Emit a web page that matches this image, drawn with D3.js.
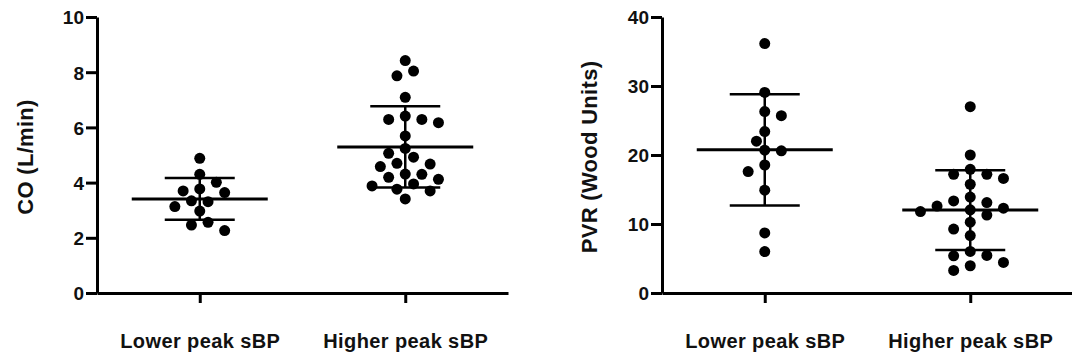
<!DOCTYPE html>
<html>
<head>
<meta charset="utf-8">
<script src="https://cdn.jsdelivr.net/npm/d3@7"></script>
<style>
  body { margin: 0; background: #fff; }
  svg text { font-family: 'Liberation Sans', Arial, Helvetica, sans-serif; font-weight: bold; fill: #111; }
</style>
</head>
<body>
<svg id="chart" width="1072" height="363"></svg>
<script>
const groups = ['Lower peak sBP', 'Higher peak sBP']

// CO (L/min)
const coLower = [4.88, 4.30, 4.01, 3.77, 3.70, 3.64, 3.34, 3.31, 3.13, 2.97, 2.56, 2.46, 2.26]
const coHigher = [8.42, 8.04, 7.87, 7.09, 6.41, 6.29, 6.29, 6.17, 5.69, 5.24, 5.06, 4.92,
  4.70, 4.67, 4.58, 4.31, 4.30, 4.19, 4.12, 3.95, 3.88, 3.76, 3.70, 3.41]
const coTicks = [0, 2, 4, 6, 8, 10]

// PVR (Wood Units)
const pvrLower = [36.15, 29.07, 26.3, 25.7, 23.4, 22.0, 20.7, 20.6, 18.55, 17.6, 14.9, 8.7, 6.0]
const pvrHigher = [27.0, 20.0, 17.93, 17.2, 17.2, 16.6, 15.76, 13.9, 13.35, 13.1, 12.6, 12.3,
  12.05, 11.8, 11.3, 10.27, 9.26, 8.33, 6.02, 5.44, 5.39, 4.43, 3.95, 3.27]
const pvrTicks = [0, 10, 20, 30, 40]

const panels = [
  { label: 'CO (L/min)', series: [coLower, coHigher], ticks: coTicks, left: 97, labelX: 25 },
  { label: 'PVR (Wood Units)', series: [pvrLower, pvrHigher], ticks: pvrTicks, left: 662, labelX: 589 }
]

const plot = { top: 17, bottom: 293, width: 411 }
const dotRadius = 5.5
const meanHalf = 68
const sdHalf = 35

const svg = d3.select('#chart')

// greedy swarm: each point goes to the free slot closest to the centre line
const swarm = (values, y, unit = 8.3, minDist = 12) => {
  const placed = []
  let balance = 0
  values.forEach(value => {
    const py = y(value)
    for (let k = 0; k < 40; k++) {
      const signs = k === 0 ? [0] : balance > 0 ? [-k, k] : [k, -k]
      const slot = signs.find(s => placed.every(p => Math.hypot(p.dx - s * unit, p.y - py) >= minDist))
      if (slot !== undefined) {
        placed.push({ value, dx: slot * unit, y: py })
        balance += Math.sign(slot)
        return
      }
    }
  })
  return placed
}

panels.forEach(panel => {
  const g = svg.append('g').attr('transform', `translate(${panel.left},0)`)

  const y = d3.scaleLinear()
    .domain([0, d3.max(panel.ticks)])
    .range([plot.bottom, plot.top])

  const x = d3.scalePoint()
    .domain(groups)
    .range([0, plot.width])
    .padding(0.5)

  panel.series.forEach((values, i) => {
    const cx = x(groups[i])
    const mean = d3.mean(values)
    const sd = d3.deviation(values)
    const group = g.append('g').attr('transform', `translate(${cx},0)`)

    group.selectAll('circle')
      .data(swarm([...values].sort((a, b) => b - a), y))
      .enter()
      .append('circle')
      .attr('cx', d => d.dx)
      .attr('cy', d => d.y)
      .attr('r', dotRadius)
      .attr('fill', '#000')

    group.append('line')
      .attr('x1', 0).attr('x2', 0)
      .attr('y1', y(mean + sd)).attr('y2', y(mean - sd))
      .attr('stroke', '#000').attr('stroke-width', 2.5)

    ;[mean + sd, mean - sd].forEach(v => {
      group.append('line')
        .attr('x1', -sdHalf).attr('x2', sdHalf)
        .attr('y1', y(v)).attr('y2', y(v))
        .attr('stroke', '#000').attr('stroke-width', 2.5)
    })

    group.append('line')
      .attr('x1', -meanHalf).attr('x2', meanHalf)
      .attr('y1', y(mean)).attr('y2', y(mean))
      .attr('stroke', '#000').attr('stroke-width', 3)
  })

  const yAxis = g.append('g')
    .call(d3.axisLeft(y).tickValues(panel.ticks).tickSize(11).tickSizeOuter(0).tickPadding(2))
  yAxis.selectAll('text').style('font-size', '19px').attr('dy', '0.36em')

  const xAxis = g.append('g')
    .attr('transform', `translate(0,${plot.bottom})`)
    .call(d3.axisBottom(x).tickSize(10).tickSizeOuter(0).tickPadding(31))
  xAxis.selectAll('text').style('font-size', '20px').style('letter-spacing', '0.4px')

  svg.selectAll('.domain, .tick line')
    .attr('stroke', '#000')
    .attr('stroke-width', 3)

  svg.append('text')
    .attr('transform', `translate(${panel.labelX},${(plot.top + plot.bottom) / 2 + 2}) rotate(-90)`)
    .attr('text-anchor', 'middle')
    .attr('dy', '0.35em')
    .style('font-size', '22px')
    .style('letter-spacing', '0.3px')
    .text(panel.label)
})
</script>
</body>
</html>
